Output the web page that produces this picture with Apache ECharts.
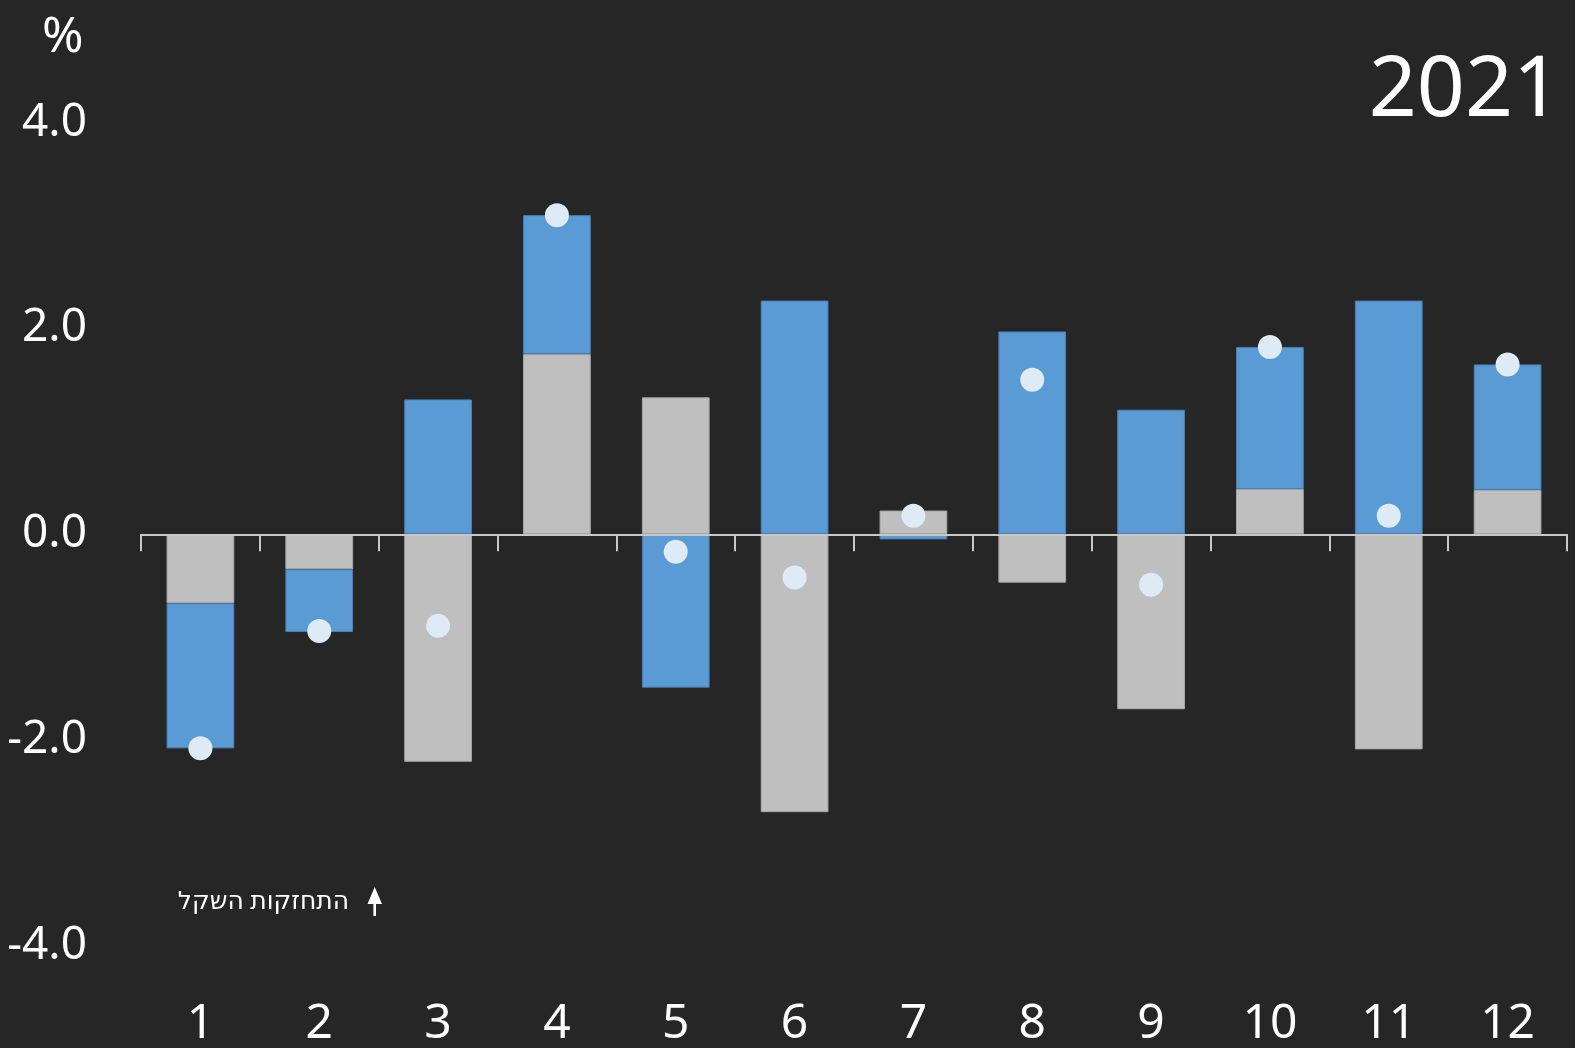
<!DOCTYPE html>
<html>
<head>
<meta charset="utf-8">
<script src="https://cdn.jsdelivr.net/npm/echarts@6/dist/echarts.min.js"></script>
<style>
html,body{margin:0;padding:0;background:#262626;}
#chart{width:1575px;height:1048px;}
</style>
</head>
<body>
<div id="chart"></div>
<script>
const months = ['1','2','3','4','5','6','7','8','9','10','11','12'];
const grayValues = [-0.67, -0.34, -2.21, 1.75, 1.33, -2.70, 0.23, -0.47, -1.70, 0.44, -2.09, 0.43];
const blueValues = [-1.41, -0.61, 1.31, 1.35, -1.49, 2.27, -0.05, 1.97, 1.21, 1.38, 2.27, 1.22];
const dotValues = [-2.08, -0.94, -0.89, 3.10, -0.17, -0.42, 0.18, 1.50, -0.49, 1.82, 0.18, 1.65];
const yTicks = {min: -4, max: 4, interval: 2};
const yearLabel = '2021';
const unitLabel = '%';
const noteLabel = 'התחזקות השקל';

const FONT = '"Noto Sans", "DejaVu Sans", sans-serif';
const chart = echarts.init(document.getElementById('chart'));
chart.setOption({
  backgroundColor: '#262626',
  animation: false,
  textStyle: {fontFamily: FONT},
  grid: {left: 141, right: 8, top: 122.5, bottom: 95.2, containLabel: false},
  xAxis: [
    {
      type: 'category', data: months, position: 'bottom',
      axisLine: {onZero: true, lineStyle: {color: '#c8c8c8', width: 2}},
      axisTick: {show: true, length: 17, lineStyle: {color: '#c8c8c8', width: 2}},
      axisLabel: {show: false},
      z: 10
    },
    {
      type: 'category', data: months, position: 'bottom',
      axisLine: {show: false, onZero: false},
      axisTick: {show: false},
      axisLabel: {color: '#ffffff', fontSize: 48, margin: 54, fontFamily: FONT}
    }
  ],
  yAxis: {
    type: 'value', min: yTicks.min, max: yTicks.max, interval: yTicks.interval,
    axisLine: {show: false}, axisTick: {show: false}, splitLine: {show: false},
    axisLabel: {color: '#ffffff', fontSize: 46, margin: 54, fontFamily: FONT,
      formatter: v => v.toFixed(1)}
  },
  series: [
    {type: 'bar', stack: 'a', data: grayValues, barWidth: '57%',
      itemStyle: {color: '#bfbfbf', borderColor: '#a8a8a8', borderWidth: 1}},
    {type: 'bar', stack: 'a', data: blueValues, barWidth: '57%',
      itemStyle: {color: '#5b9bd5', borderColor: '#4a7fb0', borderWidth: 1}},
    {type: 'scatter', data: dotValues, symbolSize: 24,
      itemStyle: {color: '#deeaf6', opacity: 1}, z: 20}
  ],
  graphic: [
    {type: 'text', left: 42, top: 13, style: {text: unitLabel, fill: '#ffffff', font: '50px ' + FONT}},
    {type: 'text', right: 14, top: 50, style: {text: yearLabel, fill: '#ffffff', font: '84px ' + FONT}},
    {type: 'text', x: 349, y: 902, style: {text: noteLabel, fill: '#ffffff', font: '25px ' + FONT,
      align: 'right', verticalAlign: 'middle'}},
    {type: 'polygon', shape: {points: [[374.7, 887], [367.5, 904], [382, 904]]}, style: {fill: '#ffffff'}},
    {type: 'rect', shape: {x: 373.4, y: 901, width: 2.6, height: 15}, style: {fill: '#ffffff'}}
  ]
});
</script>
</body>
</html>
